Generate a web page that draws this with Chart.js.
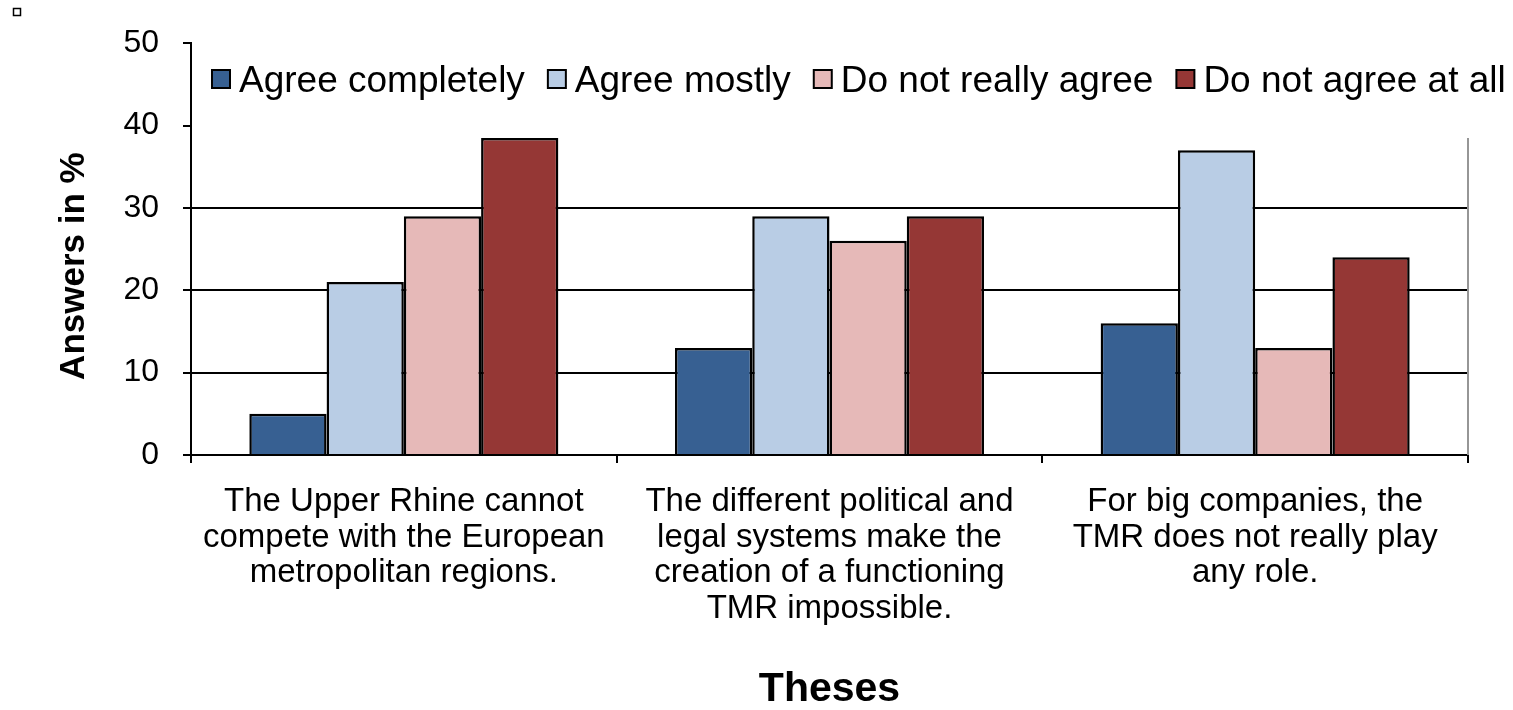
<!DOCTYPE html>
<html>
<head>
<meta charset="utf-8">
<script src="https://cdn.jsdelivr.net/npm/chart.js@4.4.1/dist/chart.umd.min.js"></script>
<style>
  html, body { margin: 0; padding: 0; background: #fff; }
  #wrap { width: 1513px; height: 710px; }
</style>
</head>
<body>
<div id="wrap"><canvas id="theses-chart"></canvas></div>
<script>
const categories = [
  ['The Upper Rhine cannot', 'compete with the European', 'metropolitan regions.'],
  ['The different political and', 'legal systems make the', 'creation of a functioning', 'TMR impossible.'],
  ['For big companies, the', 'TMR does not really play', 'any role.'],
];
const seriesLabels = ['Agree completely', 'Agree mostly', 'Do not really agree', 'Do not agree at all'];
const agreeCompletely = [5, 13, 16];
const agreeMostly = [21, 29, 37];
const notReally = [29, 26, 13];
const notAtAll = [38.5, 29, 24];
const yTicks = [0, 10, 20, 30, 40, 50];

const colors = ['#376092', '#B9CDE5', '#E6B9B8', '#953735'];
const FONT = "'Liberation Sans', Arial, sans-serif";

// the plot frame stops at the tallest bar; gridlines above it are left out
const ceiling = Math.max(...agreeCompletely, ...agreeMostly, ...notReally, ...notAtAll);

const legendBoxes = {
  id: 'legendBoxes',
  afterDraw(chart) {
    const { ctx, chartArea } = chart;
    ctx.save();
    ctx.font = `37px ${FONT}`;
    ctx.textBaseline = 'alphabetic';
    let x = chartArea.left + 21;
    chart.data.datasets.forEach((ds) => {
      ctx.fillStyle = ds.backgroundColor;
      ctx.fillRect(x, 70, 18, 18);
      ctx.strokeStyle = '#000';
      ctx.lineWidth = 2;
      ctx.strokeRect(x, 70, 18, 18);
      ctx.fillStyle = '#000';
      ctx.fillText(ds.label, x + 27, 92);
      x += 27 + ctx.measureText(ds.label).width + 23;
    });
    // little outlined marker in the corner
    ctx.lineWidth = 1.5;
    ctx.strokeRect(13.5, 8.5, 7, 7);
    ctx.restore();
  },
};

// rotated value-axis title, sitting a little below the middle of the axis
const yTitle = {
  id: 'yTitle',
  afterDraw(chart) {
    const { ctx, chartArea } = chart;
    ctx.save();
    ctx.translate(74, (chartArea.top + chartArea.bottom) / 2 + 17);
    ctx.rotate(-Math.PI / 2);
    ctx.font = `bold 35px ${FONT}`;
    ctx.fillStyle = '#000';
    ctx.textAlign = 'center';
    ctx.textBaseline = 'middle';
    ctx.fillText('Answers in %', 0, 0);
    ctx.restore();
  },
};

const rightFrame = {
  id: 'rightFrame',
  afterDatasetsDraw(chart) {
    const { ctx, chartArea, scales } = chart;
    ctx.save();
    ctx.strokeStyle = '#969696';
    ctx.lineWidth = 2;
    ctx.beginPath();
    ctx.moveTo(chartArea.right, scales.y.getPixelForValue(ceiling));
    ctx.lineTo(chartArea.right, chartArea.bottom);
    ctx.stroke();
    ctx.restore();
  },
};

// eslint-disable-next-line no-new
new Chart(
  document.getElementById('theses-chart'),
  {
    type: 'bar',
    data: {
      labels: categories,
      datasets: [
        { label: seriesLabels[0], data: agreeCompletely, backgroundColor: colors[0] },
        { label: seriesLabels[1], data: agreeMostly, backgroundColor: colors[1] },
        { label: seriesLabels[2], data: notReally, backgroundColor: colors[2] },
        { label: seriesLabels[3], data: notAtAll, backgroundColor: colors[3] },
      ],
    },
    plugins: [legendBoxes, yTitle, rightFrame],
    options: {
      responsive: true,
      maintainAspectRatio: false,
      animation: false,
      layout: {
        padding: { top: 42, right: 45, left: 0, bottom: 0 },
      },
      datasets: {
        bar: {
          borderColor: '#000',
          borderWidth: 2.5,
          categoryPercentage: 0.726,
          barPercentage: 1,
        },
      },
      plugins: {
        legend: { display: false },
        tooltip: { enabled: false },
      },
      scales: {
        x: {
          afterFit(scale) { scale.height = 255; },
          border: { display: true, color: '#000', width: 2 },
          grid: {
            offset: true,
            drawOnChartArea: false,
            drawTicks: true,
            tickLength: 8,
            color: '#000',
            lineWidth: 2,
          },
          ticks: {
            color: '#000',
            padding: 21,
            maxRotation: 0,
            font: { family: FONT, size: 33, lineHeight: 1.08 },
          },
          title: {
            display: true,
            text: 'Theses',
            color: '#000',
            padding: { top: 0, bottom: 0 },
            font: { family: FONT, size: 41, weight: 'bold', lineHeight: 1 },
          },
        },
        y: {
          min: 0,
          max: 50,
          afterFit(scale) { scale.width = 191; },
          afterBuildTicks(scale) { scale.ticks = yTicks.map((v) => ({ value: v })); },
          border: { display: true, color: '#000', width: 2 },
          grid: {
            color(context) {
              const v = context.tick.value;
              return v > 0 && v < ceiling ? '#000' : 'rgba(0,0,0,0)';
            },
            tickColor: '#000',
            lineWidth: 2,
            tickLength: 8,
          },
          ticks: {
            color: '#000',
            padding: 24,
            font: { family: FONT, size: 32 },
          },
        },
      },
    },
  },
);
</script>
</body>
</html>
